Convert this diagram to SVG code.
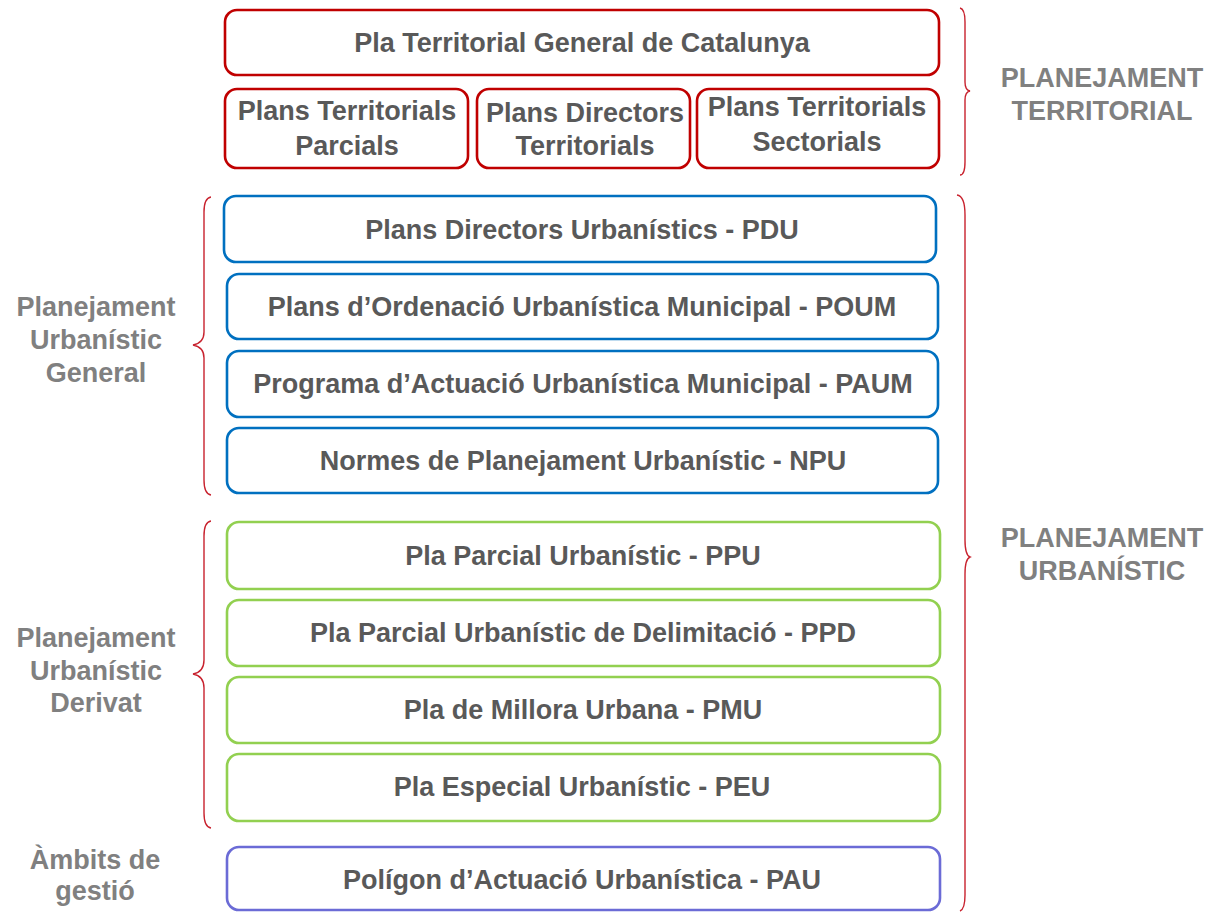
<svg xmlns="http://www.w3.org/2000/svg" width="1212" height="912" viewBox="0 0 1212 912">
<style>
.box{fill:#fff;stroke-width:2.6}
.red{stroke:#C00000}
.blue{stroke:#0070C0}
.green{stroke:#92D050}
.purple{stroke:#6B6BD6}
.t{font-family:"Liberation Sans",Arial,sans-serif;font-weight:bold;font-size:27px;fill:#595959;text-anchor:middle}
.lbl{font-family:"Liberation Sans",Arial,sans-serif;font-weight:bold;font-size:27px;fill:#808080;text-anchor:middle}
.brace{fill:none;stroke:#C8222E;stroke-width:1.4}
</style>
<rect width="1212" height="912" fill="#fff"/>
<g id="connectors">
<path class="brace" d="M960,8 Q965,9 965,22 L965,82 Q965,90 970,91 Q965,92 965,100 L965,162 Q965,175 960,175"/>
<path class="brace" d="M957,195 Q965,196 965,215 L965,540 Q965,555 970,557 Q965,559 965,574 L965,895 Q965,909 960,911"/>
<path class="brace" d="M211,197 Q204,198 204,212 L204,332 Q204,343 193,345 Q204,347 204,358 L204,480 Q204,494 211,495"/>
<path class="brace" d="M211,521 Q204,522 204,536 L204,660 Q204,672 193,674 Q204,676 204,688 L204,813 Q204,827 211,828"/>
</g>
<g id="n-ptgc"><rect class="box red" x="225" y="10" width="714" height="65" rx="12"/><text class="t" x="582" y="52">Pla Territorial General de Catalunya</text></g>
<g id="n-ptp"><rect class="box red" x="225" y="89" width="243" height="79" rx="12"/><text class="t" x="347" y="120">Plans Territorials</text><text class="t" x="347" y="155">Parcials</text></g>
<g id="n-pdt"><rect class="box red" x="477" y="89" width="213" height="79" rx="12"/><text class="t" x="585" y="122">Plans Directors</text><text class="t" x="585" y="155">Territorials</text></g>
<g id="n-pts"><rect class="box red" x="697" y="89" width="242" height="79" rx="12"/><text class="t" x="817" y="116">Plans Territorials</text><text class="t" x="817" y="151">Sectorials</text></g>
<g id="n-pdu"><rect class="box blue" x="224" y="196" width="712" height="66" rx="12"/><text class="t" x="582" y="239">Plans Directors Urbanístics - PDU</text></g>
<g id="n-poum"><rect class="box blue" x="227" y="274" width="711" height="65" rx="12"/><text class="t" x="582" y="316">Plans d’Ordenació Urbanística Municipal - POUM</text></g>
<g id="n-paum"><rect class="box blue" x="227" y="351" width="711" height="66" rx="12"/><text class="t" x="583" y="393">Programa d’Actuació Urbanística Municipal - PAUM</text></g>
<g id="n-npu"><rect class="box blue" x="227" y="428" width="711" height="65" rx="12"/><text class="t" x="583" y="470">Normes de Planejament Urbanístic - NPU</text></g>
<g id="n-ppu"><rect class="box green" x="227" y="522" width="713" height="67" rx="12"/><text class="t" x="583" y="565">Pla Parcial Urbanístic - PPU</text></g>
<g id="n-ppd"><rect class="box green" x="227" y="600" width="713" height="66" rx="12"/><text class="t" x="583" y="642">Pla Parcial Urbanístic de Delimitació - PPD</text></g>
<g id="n-pmu"><rect class="box green" x="227" y="677" width="713" height="66" rx="12"/><text class="t" x="583" y="719">Pla de Millora Urbana - PMU</text></g>
<g id="n-peu"><rect class="box green" x="227" y="754" width="713" height="67" rx="12"/><text class="t" x="582" y="796">Pla Especial Urbanístic - PEU</text></g>
<g id="n-pau"><rect class="box purple" x="227" y="847" width="713" height="63" rx="12"/><text class="t" x="582" y="889">Polígon d’Actuació Urbanística - PAU</text></g>
<g id="l-territorial"><text class="lbl" x="1102" y="87">PLANEJAMENT</text><text class="lbl" x="1102" y="120">TERRITORIAL</text></g>
<g id="l-urbanistic"><text class="lbl" x="1102" y="547">PLANEJAMENT</text><text class="lbl" x="1102" y="580">URBANÍSTIC</text></g>
<g id="l-general"><text class="lbl" x="96" y="316">Planejament</text><text class="lbl" x="96" y="349">Urbanístic</text><text class="lbl" x="96" y="382">General</text></g>
<g id="l-derivat"><text class="lbl" x="96" y="647">Planejament</text><text class="lbl" x="96" y="680">Urbanístic</text><text class="lbl" x="96" y="712">Derivat</text></g>
<g id="l-gestio"><text class="lbl" x="95" y="869">Àmbits de</text><text class="lbl" x="95" y="900">gestió</text></g>
</svg>
